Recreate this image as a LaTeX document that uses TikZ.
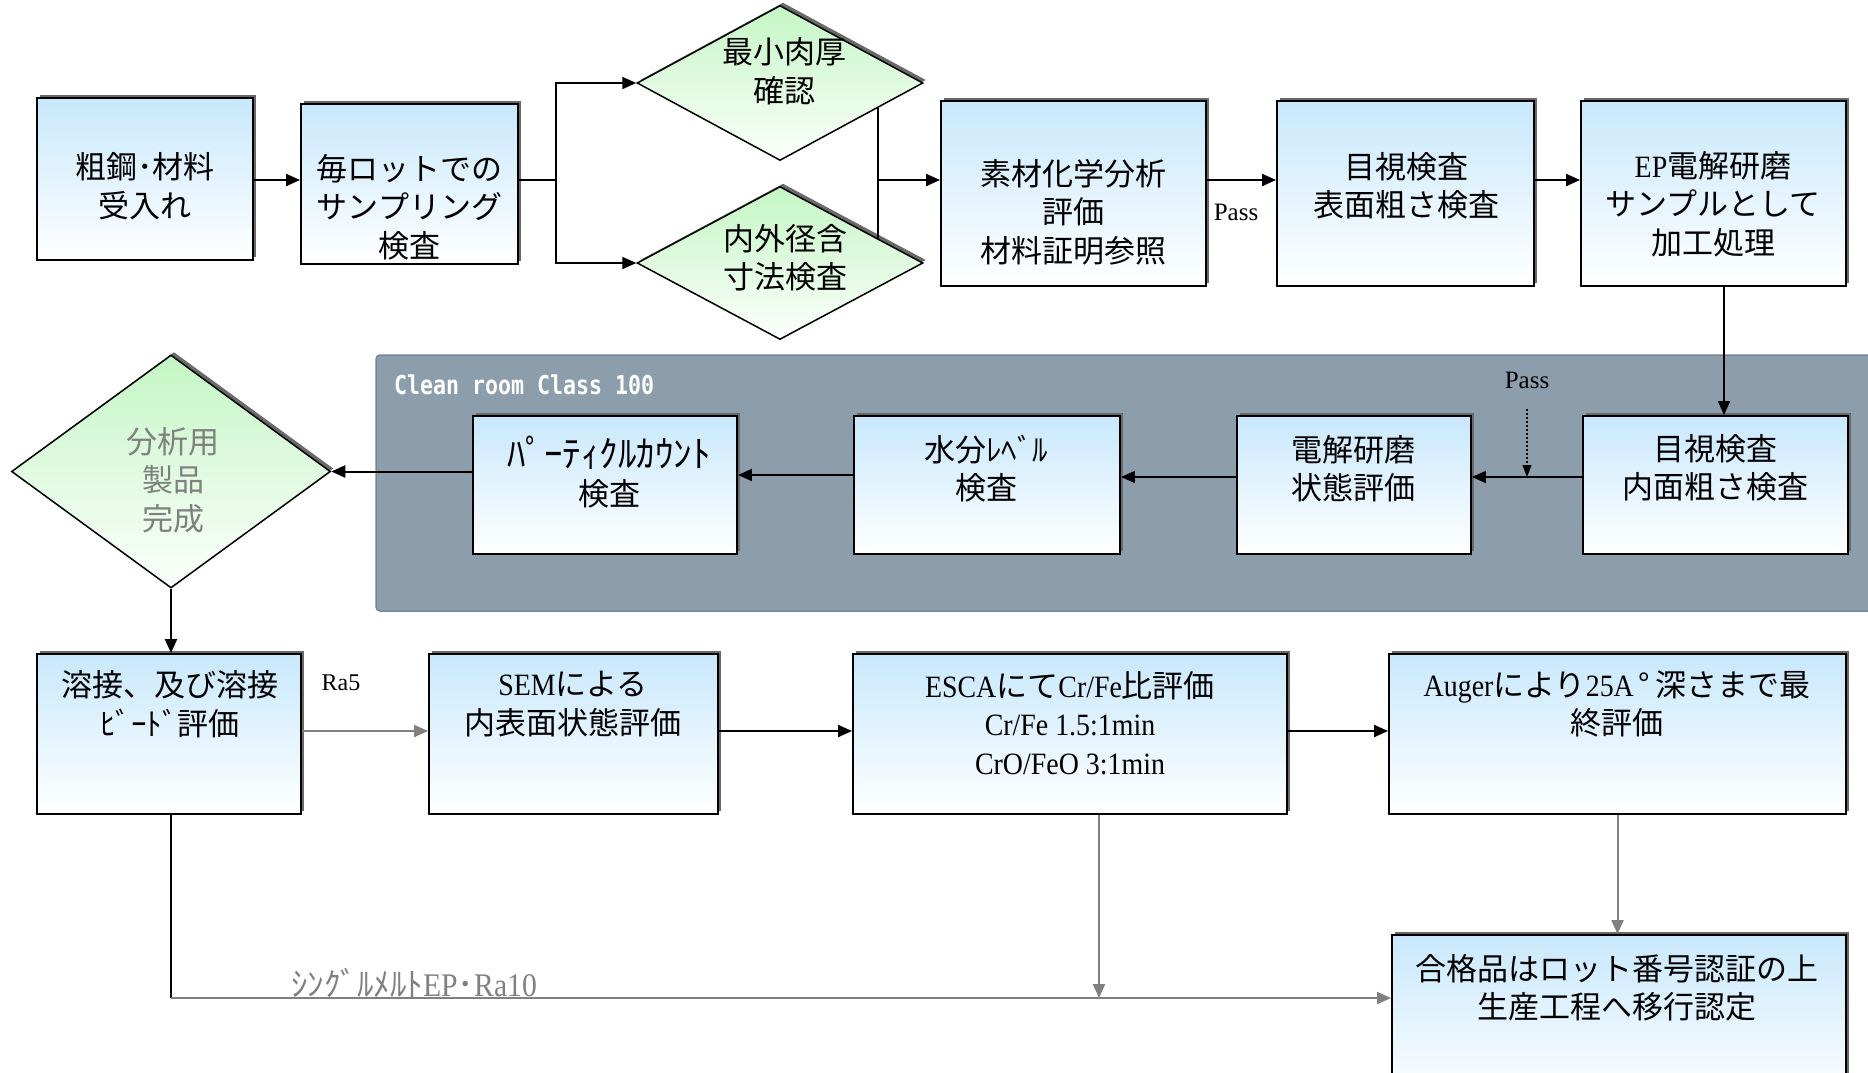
\documentclass[tikz,border=0pt]{standalone}
\usepackage{fontspec}
\setmainfont{Noto Sans CJK JP}
\newfontfamily\lat[FakeStretch=0.9]{Liberation Serif}
\newfontfamily\labfont{Liberation Serif}
\newfontfamily\monof[FakeStretch=0.83]{DejaVu Sans Mono}
\usetikzlibrary{arrows.meta,shapes.geometric,shadows,calc}
\definecolor{boxblue}{RGB}{200,232,252}
\definecolor{dgreen}{RGB}{196,246,196}
\definecolor{panelc}{RGB}{140,158,172}
\definecolor{panelb}{RGB}{118,134,148}
\definecolor{lgray}{RGB}{128,128,128}
\definecolor{shd}{RGB}{105,105,105}
\newcommand\lx[1]{{\lat #1}}
\begin{document}
\begin{tikzpicture}[x=1pt,y=-1pt,
  box/.style={rectangle, draw=black, line width=1.9pt, top color=boxblue, bottom color=white,
    general shadow={fill=shd, shadow xshift=3pt, shadow yshift=3pt}, inner sep=0pt},
  dia/.style={diamond, draw=black, line width=1.5pt, top color=dgreen, bottom color=white!95!dgreen,
    general shadow={fill=shd, shadow xshift=3pt, shadow yshift=3pt}, inner sep=0pt},
  txt/.style={align=center, inner sep=0pt, font=\fontsize{31pt}{38.5pt}\selectfont},
  conn/.style={line width=2pt, draw=black},
  arr/.style={conn, -{Triangle[length=14pt,width=12pt]}},
  garr/.style={line width=2pt, draw=lgray, -{Triangle[length=14pt,width=12pt]}},
  lab/.style={inner sep=0pt, font=\labfont\fontsize{25pt}{28pt}\selectfont},
]
\useasboundingbox (0,0) rectangle (1868,1072);
\clip (0,0) rectangle (1868,1072);
\fill[white] (0,0) rectangle (1868,1072);

% clean room panel
\filldraw[fill=panelc, draw=panelb, line width=1.5pt, rounded corners=4pt] (376,355) rectangle (1890,611);
\node[anchor=west, inner sep=0pt, text=white, font=\monof\bfseries\fontsize{26pt}{28pt}\selectfont] (cr) at (394,385) {Clean room Class 100};

% row 1
\node[box, minimum width=216pt, minimum height=162pt] (b1) at (145,179) {};
\node[txt] (t1) at (145,186) {粗鋼･材料\\受入れ};
\node[box, minimum width=217pt, minimum height=160pt] (b2) at (409.5,184) {};
\node[txt] (t2) at (409.5,207) {毎ロットでの\\サンプリング\\検査};
\node[dia, minimum width=286pt, minimum height=155pt] (d1) at (780,83) {};
\node[txt] (td1) at (784,71.5) {最小肉厚\\確認};
\node[dia, minimum width=286pt, minimum height=153pt] (d2) at (780,263) {};
\node[txt] (td2) at (785,258) {内外径含\\寸法検査};
\node[box, minimum width=265pt, minimum height=185pt] (b3) at (1073.5,193.5) {};
\node[txt] (t3) at (1073.5,212) {素材化学分析\\評価\\材料証明参照};
\node[box, minimum width=257pt, minimum height=185pt] (b4) at (1405.5,193.5) {};
\node[txt] (t4) at (1406,186) {目視検査\\表面粗さ検査};
\node[box, minimum width=265pt, minimum height=185pt] (b5) at (1713.5,193.5) {};
\node[txt] (t5) at (1713,204) {\lx{EP}電解研磨\\サンプルとして\\加工処理};

% row 2
\node[dia, minimum width=319pt, minimum height=233pt] (d3) at (171,471.5) {};
\node[txt, text=lgray] (td3) at (173,480) {分析用\\製品\\完成};
\node[box, minimum width=264pt, minimum height=138pt] (b7) at (605,485) {};
\node[txt] (t7) at (609,472) {{\fontsize{37pt}{38.5pt}\selectfont ﾊﾟｰﾃｨｸﾙｶｳﾝﾄ}\\検査};
\node[box, minimum width=266pt, minimum height=138pt] (b8) at (987,485) {};
\node[txt] (t8) at (986,468.5) {水分ﾚﾍﾞﾙ\\検査};
\node[box, minimum width=234pt, minimum height=138pt] (b9) at (1354,485) {};
\node[txt] (t9) at (1353,468.5) {電解研磨\\状態評価};
\node[box, minimum width=265pt, minimum height=138pt] (b6) at (1715.5,485) {};
\node[txt] (t6) at (1715,468) {目視検査\\内面粗さ検査};

% row 3
\node[box, minimum width=264pt, minimum height=160pt] (b10) at (169,734) {};
\node[txt] (t10) at (170,704) {溶接、及び溶接\\ﾋﾞｰﾄﾞ評価};
\node[box, minimum width=289pt, minimum height=160pt] (b11) at (573.5,734) {};
\node[txt] (t11) at (573,704) {\lx{SEM}による\\内表面状態評価};
\node[box, minimum width=434pt, minimum height=160pt] (b12) at (1070,734) {};
\node[txt] (t12) at (1070,723) {\lx{ESCA}にて\lx{Cr/Fe}比評価\\\lx{Cr/Fe 1.5:1min}\\\lx{CrO/FeO 3:1min}};
\node[box, minimum width=457pt, minimum height=160pt] (b13) at (1617.5,734) {};
\node[txt] (t13) at (1617,704) {\lx{Auger}により\lx{25A}\hspace{5pt}°\hspace{5pt}深さまで最\\終評価};
\node[box, minimum width=454pt, minimum height=165pt] (b14) at (1619,1017.5) {};
\node[txt] (t14) at (1617,988) {合格品はロット番号認証の上\\生産工程へ移行認定};

% labels
\node[lab] (pass1) at (1236,212) {Pass};
\node[lab] (pass2) at (1527,380) {Pass};
\node[lab, font=\labfont\fontsize{24pt}{28pt}\selectfont] (ra5) at (341,683) {Ra5};
\node[inner sep=0pt, text=lgray, font=\fontsize{33pt}{34pt}\selectfont] (sm) at (414,983) {ｼﾝｸﾞﾙﾒﾙﾄ\lx{EP}･\lx{Ra10}};

% helper coordinates
\coordinate (sp) at (556,180);
\coordinate (mg) at (878,180);
\coordinate (dn) at (1724,0);
\coordinate (ln2) at (0,477);
\coordinate (ln3) at (0,731);
\coordinate (jn) at (171,998);
\coordinate (esx) at (1099,998);

% row 1 connectors
\draw[arr] (b1.east |- sp) -- (b2.west |- sp);
\draw[conn] (b2.east |- sp) -- (sp);
\draw[arr] (sp) |- (d1.west);
\draw[arr] (sp) |- (d2.west);
\draw[conn] ($(d1.east)!0.315!(d1.south)$) -- ($(d2.east)!0.315!(d2.north)$);
\draw[arr] (mg) -- (mg -| b3.west);
\draw[arr] (b3.east |- mg) -- (b4.west |- mg);
\draw[arr] (b4.east |- mg) -- (b5.west |- mg);
\draw[arr] (b5.south -| dn) -- (b6.north -| dn);

% row 2 connectors
\draw[arr] (b6.west |- ln2) -- (b9.east |- ln2);
\draw[arr, dotted, line width=1.3pt, -{Triangle[length=12pt,width=9pt]}] ([yshift=-20pt]pass2.south) -- (pass2.south |- ln2);
\draw[arr] (b9.west |- ln2) -- (b8.east |- ln2);
\draw[arr] ([yshift=10pt]b8.west) -- ([yshift=10pt]b7.east);
\draw[arr] (d3.east -| b7.west) -- (d3.east);
\draw[arr] (d3.south) -- (d3.south |- b10.north);

% row 3 connectors
\draw[garr] (b10.east |- ln3) -- (b11.west |- ln3);
\draw[arr] (b11.east |- ln3) -- (b12.west |- ln3);
\draw[arr] (b12.east |- ln3) -- (b13.west |- ln3);
\draw[conn] (b10.south -| jn) -- (jn);
\draw[garr] (jn) -- (jn -| b14.west);
\draw[garr] (b12.south -| esx) -- (esx);
\draw[garr] (b13.south) -- (b13.south |- b14.north);
\end{tikzpicture}
\end{document}
